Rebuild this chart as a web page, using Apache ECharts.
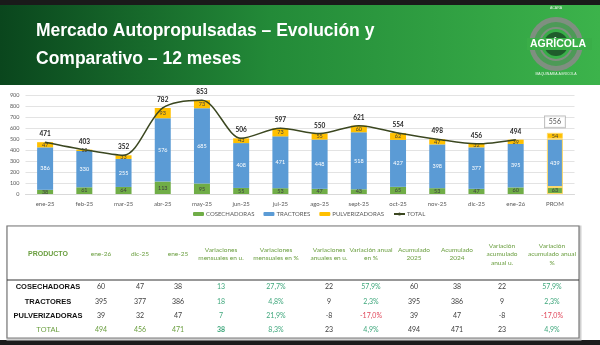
<!DOCTYPE html>
<html><head><meta charset="utf-8">
<script src="https://cdn.jsdelivr.net/npm/echarts@6/dist/echarts.min.js"></script>
<style>html,body{margin:0;padding:0;background:#fff}#c{width:600px;height:345px}</style>
</head><body><div id="c"></div>
<script>
// ---- chart data ----
const categories = ['ene-25','feb-25','mar-25','abr-25','may-25','jun-25','jul-25','ago-25','sept-25','oct-25','nov-25','dic-25','ene-26','PROM'];
const cosechadoras   = [38, 61, 64, 113, 95, 55, 53, 47, 43, 65, 53, 47, 60, 63];
const tractores      = [386, 330, 255, 576, 685, 408, 471, 448, 518, 427, 398, 377, 395, 439];
const pulverizadoras = [47, 12, 33, 93, 73, 43, 73, 55, 60, 62, 47, 32, 39, 54];
const totals         = [471, 403, 352, 782, 853, 506, 597, 550, 621, 554, 498, 456, 494, null];
const promTotal      = [null, null, null, null, null, null, null, null, null, null, null, null, null, 556];
const yMin = 0, yMax = 900, yStep = 100;

// ---- table data ----
const tableHeaders = ['PRODUCTO','ene-26','dic-25','ene-25','Variaciones\nmensuales en u.','Variaciones\nmensuales en %','Variaciones\nanuales en u.','Variación anual\nen %','Acumulado\n2025','Acumulado\n2024','Variación\nacumulado\nanual u.','Variación\nacumulado anual\n%'];
const tableProducts = ['COSECHADORAS','TRACTORES','PULVERIZADORAS','TOTAL'];
const tableRows = [
  [60, 47, 38, 13, '27,7%', 22, '57,9%', 60, 38, 22, '57,9%'],
  [395, 377, 386, 18, '4,8%', 9, '2,3%', 395, 386, 9, '2,3%'],
  [39, 32, 47, 7, '21,9%', -8, '-17,0%', 39, 47, -8, '-17,0%'],
  [494, 456, 471, 38, '8,3%', 23, '4,9%', 494, 471, 23, '4,9%']
];
const titleLines = ['Mercado Autopropulsadas – Evolución y', 'Comparativo – 12 meses'];

// ---- layout / style ----
const colX = [48, 101, 140, 178, 221, 276, 329, 371, 414, 457, 502, 552];
const rowY = [287, 302, 316, 330];
const GREEN_H = '#6a9e3f', TEAL = '#3fa77c', RED = '#e0475a', GRAYT = '#404040';
const pctCols = [4, 6, 10];

const chart = echarts.init(document.getElementById('c'), null, {renderer: 'canvas'});

const graphics = [];
graphics.push({type:'rect', z:-10, shape:{x:0,y:0,width:600,height:345}, style:{fill:'#ffffff'}});
graphics.push({type:'rect', shape:{x:0,y:0,width:600,height:5}, style:{fill:'#1a1a1a'}});
graphics.push({type:'rect', shape:{x:0,y:5,width:600,height:80}, style:{fill:new echarts.graphic.LinearGradient(0,0,1,0,[{offset:0,color:'#0a461d'},{offset:0.45,color:'#238a38'},{offset:1,color:'#3cb34b'}])}});
graphics.push({type:'rect', shape:{x:0,y:340,width:600,height:5}, style:{fill:'#1c1c1c'}});
titleLines.forEach((t,i)=>{
  graphics.push({type:'text', x:36, y:31+i*28, style:{text:t, fill:'#ffffff', fontSize:17.5, fontWeight:'bold', fontFamily:'Liberation Sans', align:'left', verticalAlign:'middle'}});
});
// logo
graphics.push({type:'ring', shape:{cx:556,cy:44,r:27,r0:15}, style:{fill:'#7f8f80'}});
graphics.push({type:'ring', shape:{cx:556,cy:44,r:22,r0:17}, style:{fill:'#4d9a57'}});
graphics.push({type:'circle', shape:{cx:556,cy:44,r:12}, style:{fill:'#1f5c2c'}});
graphics.push({type:'circle', shape:{cx:556,cy:44,r:6}, style:{fill:'#2f7a3c'}});
graphics.push({type:'rect', shape:{x:527,y:38,width:65,height:12}, style:{fill:'#3aae48'}});
graphics.push({type:'text', x:558, y:44.5, style:{text:'AGRÍCOLA', fill:'#ffffff', fontSize:10.5, fontWeight:'bold', fontFamily:'Liberation Sans', align:'center', verticalAlign:'middle'}});
graphics.push({type:'text', x:556, y:8, style:{text:'ACARA', fill:'#e8f5e8', fontSize:3.5, fontFamily:'Liberation Sans', align:'center', verticalAlign:'middle'}});
graphics.push({type:'text', x:556, y:74, style:{text:'MAQUINARIA AGRÍCOLA', fill:'#e8f5e8', fontSize:3.5, fontFamily:'Liberation Sans', align:'center', verticalAlign:'middle'}});

// table
graphics.push({type:'rect', shape:{x:8,y:227,width:572,height:112}, style:{fill:'none', stroke:'#d0d0d0', lineWidth:3}});
graphics.push({type:'rect', shape:{x:7,y:226,width:572,height:112}, style:{fill:'#ffffff', stroke:'#7a7a7a', lineWidth:1.2}});
graphics.push({type:'line', shape:{x1:7,y1:280,x2:579,y2:280}, style:{stroke:'#333333', lineWidth:1}});
tableHeaders.forEach((h,i)=>{
  graphics.push({type:'text', x:colX[i], y:254, style:{text:h, fill:GREEN_H, fontSize:i===0?7:6.5, fontWeight:i===0?'bold':'normal', fontFamily:i===0?'Liberation Sans':'Lato', align:'center', verticalAlign:'middle', lineHeight:8.5}});
});
tableProducts.forEach((p,r)=>{
  const isTot = r===tableProducts.length-1;
  graphics.push({type:'text', x:colX[0], y:rowY[r], style:{text:p, fill:isTot?GREEN_H:'#111111', fontSize:7.5, fontWeight:isTot?'normal':'bold', fontFamily:'Liberation Sans', align:'center', verticalAlign:'middle'}});
  tableRows[r].forEach((v,c)=>{
    let fill = GRAYT, weight = 'normal';
    if (c===3 || c===4) fill = TEAL;
    if (pctCols.includes(c)) fill = String(v).startsWith('-') ? RED : TEAL;
    if (isTot && c<3) fill = GREEN_H;
    if (isTot && c===3) weight = 'bold';
    graphics.push({type:'text', x:colX[c+1], y:rowY[r], style:{text:String(v), fill:fill, fontSize:7, fontWeight:weight, fontFamily:'Lato', align:'center', verticalAlign:'middle'}});
  });
});

const promStyle = {borderColor:'#ffd966', borderWidth:1};
const withProm = arr => arr.map((v,i)=> i===categories.length-1 ? {value:v, itemStyle:promStyle} : v);

const barLabel = (color) => ({show:true, position:'inside', color:color, fontSize:5.5, fontFamily:'Lato'});

chart.setOption({
  animation:false,
  backgroundColor:'transparent',
  graphic:{elements:graphics},
  grid:{left:25.5, right:25.5, top:95, bottom:151, containLabel:false},
  legend:{
    data:['COSECHADORAS','TRACTORES','PULVERIZADORAS','TOTAL'],
    left:193, top:211, itemWidth:11, itemHeight:4, itemGap:9, padding:0,
    textStyle:{fontSize:6, color:'#595959', fontFamily:'Lato', padding:[0,0,0,-3]}
  },
  xAxis:{
    type:'category', data:categories,
    axisLine:{lineStyle:{color:'#d9d9d9'}}, axisTick:{show:false},
    axisLabel:{fontSize:6, color:'#595959', fontFamily:'Lato', margin:7}
  },
  yAxis:{
    type:'value', min:yMin, max:yMax, interval:yStep,
    axisLine:{show:false}, axisTick:{show:false},
    splitLine:{lineStyle:{color:'#e3e3e3'}},
    axisLabel:{fontSize:5.5, color:'#595959', fontFamily:'Lato', margin:6}
  },
  series:[
    {name:'COSECHADORAS', type:'bar', stack:'s', data:withProm(cosechadoras), barWidth:16, itemStyle:{color:'#70ad47'}, label:barLabel('#404040')},
    {name:'TRACTORES', type:'bar', stack:'s', data:withProm(tractores), barWidth:16, itemStyle:{color:'#5b9bd5'}, label:barLabel('#ffffff')},
    {name:'PULVERIZADORAS', type:'bar', stack:'s', data:withProm(pulverizadoras), barWidth:16, itemStyle:{color:'#ffc000'}, label:barLabel('#404040')},
    {name:'TOTAL', type:'line', data:totals, smooth:0.3, symbol:'circle', symbolSize:1, showSymbol:true,
      itemStyle:{color:'#3b4720'}, lineStyle:{color:'#3b4720', width:1.5},
      label:{show:true, position:'top', distance:4, color:'#262626', fontSize:6.5, fontWeight:'bold', fontFamily:'Lato'}},
    {name:'PROM_TOTAL', type:'scatter', data:promTotal, symbolSize:1, itemStyle:{color:'rgba(0,0,0,0)'},
      label:{show:true, position:'top', distance:5, color:'#262626', fontSize:7, fontFamily:'Lato', borderColor:'#a6a6a6', borderWidth:0.8, backgroundColor:'#ffffff', padding:[2,4]}}
  ]
});
</script></body></html>
